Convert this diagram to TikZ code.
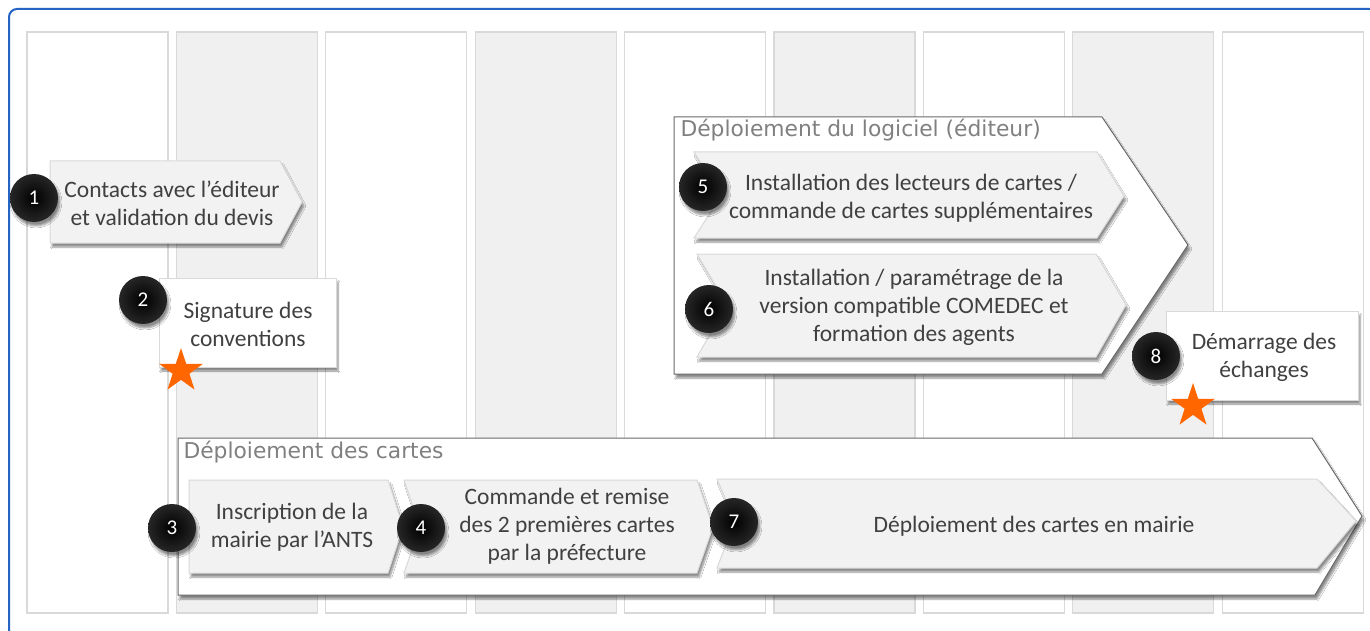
\documentclass[tikz,border=0pt]{standalone}
\usepackage{fontspec}
\setmainfont{Carlito}
\newfontfamily\titlefont{DejaVu Sans}
\usetikzlibrary{shapes.geometric, shadows.blur, positioning}
\definecolor{frameblue}{RGB}{38, 100, 196}
\definecolor{colgray}{RGB}{240, 240, 240}
\definecolor{colline}{RGB}{217, 217, 217}
\definecolor{chevfill}{RGB}{242, 242, 242}
\definecolor{txtgray}{RGB}{64, 64, 64}
\definecolor{grpline}{RGB}{105, 105, 105}
\definecolor{starorange}{RGB}{255, 102, 0}

\begin{document}
\begin{tikzpicture}[x=1pt, y=-1pt,
  col/.style={draw=colline, line width=1.2pt, fill=#1},
  sh/.style={blur shadow={shadow xshift=2pt, shadow yshift=-4pt, shadow opacity=45, shadow blur steps=6}},
  chev/.style={draw=colline, line width=1pt, fill=chevfill, sh},
  grp/.style={draw=grpline, line width=1pt, fill=white, sh},
  card/.style={draw=colline, line width=1pt, fill=white, sh},
  txt/.style={align=center, font=\fontsize{23.5}{28}\selectfont, text=txtgray},
  ttl/.style={anchor=west, font=\titlefont\fontsize{21.8}{26}\selectfont, text=black!50},
  ball/.style={circle, minimum size=48pt, inner sep=0pt, shading=radial, inner color=black, outer color=black!85, text=white, font=\fontsize{21}{21}\selectfont, sh},
  etoile/.style={star, star points=5, star point ratio=2.6, minimum size=46pt, inner sep=0pt, fill=starorange},
]
  \useasboundingbox (0,0) rectangle (1370,631);
  \fill[white] (0,0) rectangle (1370,631);

  \foreach \i in {0,2,4,6,8}
    \draw[col=white] ({27+149.4*\i},32) rectangle ++(141,581);
  \foreach \i in {1,3,5,7}
    \draw[col=colgray] ({27+149.4*\i},32) rectangle ++(141,581);

  \draw[frameblue, line width=2pt, rounded corners=8pt] (1370,9) -- (9,9) -- (9,631);

  % groupes
  \draw[grp] (674,117) -- (1102,117) -- (1188,245) -- (1102,374) -- (674,374) -- cycle;
  \node[ttl] (tlog) at (677,130) {Déploiement du logiciel (éditeur)};
  \draw[grp] (178,438) -- (1312,438) -- (1362,516) -- (1315,595) -- (178,595) -- cycle;
  \node[ttl] (tcar) at (180,452) {Déploiement des cartes};

  % etapes
  \draw[chev] (50,161) -- (280,161) -- (302,202) -- (280,243) -- (50,243) -- cycle;
  \draw[card] (159,278) rectangle (336,367);
  \draw[chev] (694,152) -- (1097,152) -- (1124,196) -- (1097,238) -- (694,238) -- (721,196) -- cycle;
  \draw[chev] (697,254) -- (1096,254) -- (1126,305) -- (1096,357) -- (697,357) -- (727,305) -- cycle;
  \draw[card] (1166,311) rectangle (1358,400);
  \draw[chev] (189,480) -- (388,480) -- (403,527) -- (388,573) -- (189,573) -- cycle;
  \draw[chev] (404,480) -- (697,480) -- (713,527) -- (697,573) -- (404,573) -- (420,527) -- cycle;
  \draw[chev] (717,479) -- (1317,479) -- (1356,521) -- (1317,568) -- (717,568) -- (735,521) -- cycle;

  \node[txt] (t1) at (172,203) {Contacts avec l’éditeur\\et validation du devis};
  \node[txt] (t2) at (248,324) {Signature des\\conventions};
  \node[txt] (t5) at (911,198) {Installation des lecteurs de cartes /\\commande de cartes supplémentaires};
  \node[txt] (t6) at (914,307) {Installation / paramétrage de la\\version compatible COMEDEC et\\formation des agents};
  \node[txt] (t8) at (1264,357) {Démarrage des\\échanges};
  \node[txt] (t3) at (292,527) {Inscription de la\\mairie par l’ANTS};
  \node[txt] (t4) at (567,526) {Commande et remise\\des 2 premières cartes\\par la préfecture};
  \node[txt] (t7) at (1034,526) {Déploiement des cartes en mairie};

  \node[ball] (b1) at (34,198) {1};
  \node[ball] (b2) at (143,300) {2};
  \node[ball] (b3) at (172,528) {3};
  \node[ball] (b4) at (421,528) {4};
  \node[ball] (b5) at (703,187) {5};
  \node[ball] (b6) at (709,309) {6};
  \node[ball] (b7) at (734,522) {7};
  \node[ball] (b8) at (1156,356) {8};

  \node[etoile] (s2) at (181,371) {};
  \node[etoile] (s8) at (1193,406) {};
\end{tikzpicture}
\end{document}
